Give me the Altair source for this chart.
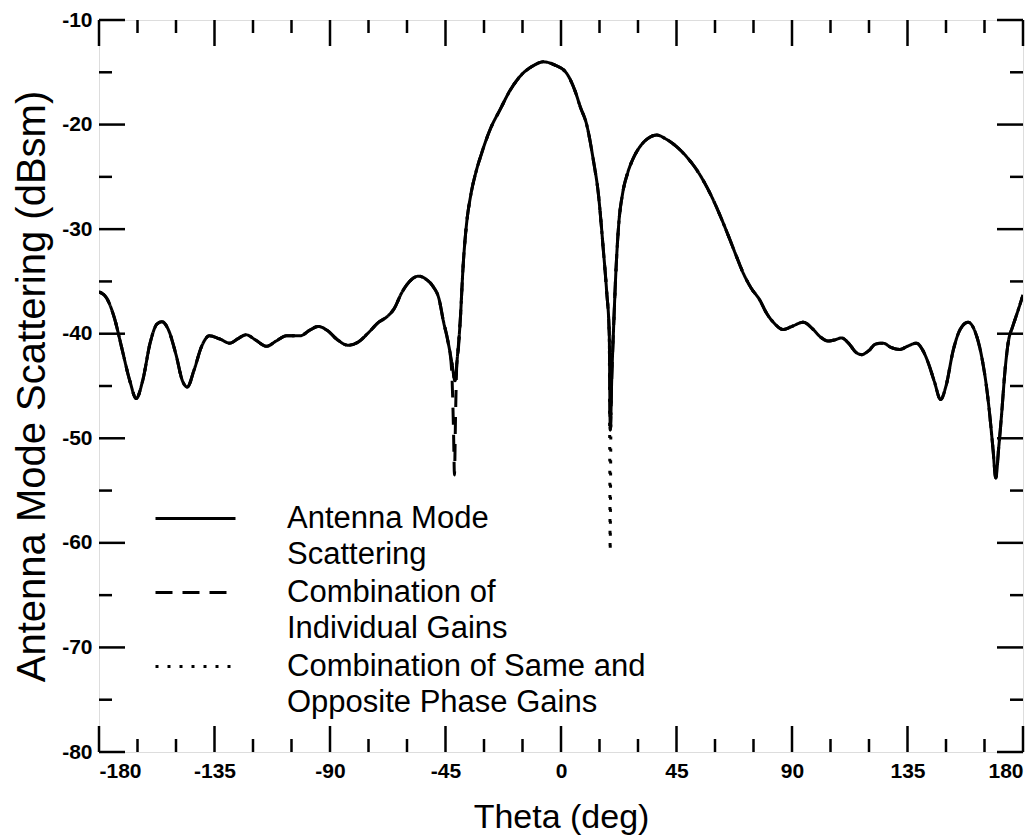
import altair as alt
import pandas as pd

# ---------------- data ----------------
theta_solid = [-180, -177, -174, -171, -168, -165.5, -163, -160, -157.5, -155.5,
               -153, -150, -147.5, -145.6, -143, -140, -137, -133, -129, -126,
               -122.7, -119, -114.7, -111, -106.9, -101.7, -97.5, -94.6, -91, -87,
               -83, -79, -75, -71, -67.9, -65, -62.1, -59, -55.6, -52.5,
               -49.8, -47.5, -45.9, -44, -42.5, -41.3, -40.3, -39.4, -38, -36.8,
               -35.2, -33.2, -31, -27.5, -23.8, -20, -16, -11, -6.9, -2.5, 2.2,
               5.5, 7.5, 10, 12.6, 14.5, 16.5, 17.8, 18.8, 19.2, 19.8,
               20.4, 21.5, 22.5, 24, 26, 28, 30.8, 34, 37.3, 41, 45,
               49, 52.8, 56, 59.3, 62.5, 65.8, 68.5, 71, 74, 77.5,
               80, 82.7, 86.6, 90, 94.4, 98.3, 101, 104.1, 106.5, 109.3,
               112, 115, 117.1, 120, 122.5, 125.5, 128.5, 132, 135, 138.5,
               141, 143.1, 145.5, 147.9, 150, 152.8, 155.5, 158.6, 161, 163.9,
               166, 167.1, 168.3, 169.4, 170.5, 171.6, 173, 174.2, 176, 177.5, 180]
db_solid = [-36.0, -36.6, -38.5, -41.5, -44.5, -46.2, -44.5, -40.8, -39.1, -38.85,
            -39.6, -42.0, -44.5, -45.1, -43.5, -41.2, -40.2, -40.5, -40.9, -40.5,
            -40.1, -40.6, -41.2, -40.7, -40.2, -40.2, -39.6, -39.3, -39.7, -40.6,
            -41.1, -40.8, -39.9, -38.9, -38.4, -37.6, -36.1, -35.0, -34.5, -34.8,
            -35.5, -36.7, -38.7, -40.8, -42.8, -44.5, -42.0, -39.3, -33.0, -29.5,
            -26.8, -24.6, -22.8, -20.4, -18.6, -16.8, -15.4, -14.4, -14.0, -14.3, -15.1,
            -16.8, -18.3, -20.0, -23.4, -26.5, -32.0, -36.0, -40.0, -49.2, -44.0,
            -40.0, -33.5, -29.5, -26.6, -24.6, -23.3, -22.1, -21.3, -21.0, -21.4, -22.1,
            -23.1, -24.3, -25.6, -27.2, -29.0, -31.0, -32.7, -34.2, -35.6, -36.8,
            -38.0, -38.9, -39.6, -39.3, -38.9, -39.6, -40.3, -40.7, -40.6, -40.4,
            -40.9, -41.8, -42.0, -41.6, -41.0, -40.9, -41.3, -41.5, -41.2, -40.9,
            -41.6, -42.8, -44.6, -46.3, -45.0, -41.6, -39.6, -38.9, -39.6, -42.2,
            -45.5, -47.9, -51.0, -53.8, -51.0, -47.9, -43.5, -40.9, -39.3, -38.2, -36.3]

# where the dashed curve leaves the solid one (null near -41 deg)
theta_dashed_null = [-42.6, -41.9, -41.5, -41.1, -40.4]
db_dashed_null = [-43.5, -49.0, -53.5, -48.0, -42.0]

# where the dotted curve leaves the solid one (null near 19 deg)
theta_dotted_null = [18.8, 19.0, 19.15, 19.4, 19.8]
db_dotted_null = [-40.0, -52.0, -60.8, -50.0, -43.0]

series_names = ["Antenna Mode|Scattering",
                "Combination of|Individual Gains",
                "Combination of Same and|Opposite Phase Gains"]
dash_styles = [[1, 0], [17, 10], [3, 9]]

x_major = [-180, -135, -90, -45, 0, 45, 90, 135, 180]
x_minor = [-165, -150, -120, -105, -75, -60, -30, -15, 15, 30, 60, 75, 105, 120, 150, 165]
y_major = [-80, -70, -60, -50, -40, -30, -20, -10]
y_minor = [-75, -65, -55, -45, -35, -25, -15]


def replace_window(base_t, base_v, new_t, new_v):
    lo, hi = min(new_t), max(new_t)
    pts = [(t, v) for t, v in zip(base_t, base_v) if t < lo or t > hi]
    pts += list(zip(new_t, new_v))
    pts.sort()
    return [p[0] for p in pts], [p[1] for p in pts]


t_d, v_d = replace_window(theta_solid, db_solid, theta_dashed_null, db_dashed_null)
t_o, v_o = replace_window(theta_solid, db_solid, theta_dotted_null, db_dotted_null)

frames = []
for name, (ts, vs) in zip(series_names[::-1], [(t_o, v_o), (t_d, v_d), (theta_solid, db_solid)]):
    frames.append(pd.DataFrame({"theta": ts, "db": vs, "series": name}))
df = pd.concat(frames, ignore_index=True)

W, H = 924, 732
FONT = "Liberation Sans"

xscale = alt.Scale(domain=[-180, 180], nice=False, zero=False)
yscale = alt.Scale(domain=[-80, -10], nice=False, zero=False)

lines = alt.Chart(df).mark_line(color="black", strokeWidth=3, interpolate="monotone",
                                strokeCap="butt", clip=True).encode(
    x=alt.X("theta:Q", scale=xscale,
            axis=alt.Axis(values=x_major, ticks=False, domain=False, grid=False,
                          labelFlush=True, labelPadding=8, labelFontSize=21,
                          labelFontWeight="bold",
                          labelFont=FONT, labelColor="black",
                          labelExpr="'' + datum.value",
                          title="Theta (deg)", titleFont=FONT, titleFontSize=34,
                          titleFontWeight="normal", titleColor="black", titlePadding=19)),
    y=alt.Y("db:Q", scale=yscale,
            axis=alt.Axis(values=y_major, ticks=False, domain=False, grid=False,
                          labelPadding=7, labelFontSize=21, labelFont=FONT,
                          labelFontWeight="bold",
                          labelColor="black", labelExpr="'' + datum.value",
                          title="Antenna Mode Scattering (dBsm)", titleFont=FONT,
                          titleFontSize=40, titleFontWeight="normal",
                          titleColor="black", titlePadding=9)),
    strokeDash=alt.StrokeDash("series:N",
                              scale=alt.Scale(domain=series_names, range=dash_styles),
                              legend=alt.Legend(title=None, orient="none", legendX=81,
                                                legendY=483, symbolType="M-4,0H4",
                                                symbolSize=400, symbolStrokeWidth=3,
                                                symbolStrokeColor="black",
                                                labelFontSize=31, labelFont=FONT,
                                                labelColor="black", labelOffset=76,
                                                labelLimit=800,
                                                labelExpr="split(datum.label, '|')",
                                                rowPadding=6, padding=0)),
    order=alt.Order("theta:Q"),
)

xmaj = pd.DataFrame({"v": x_major})
xmin = pd.DataFrame({"v": x_minor})
ymaj = pd.DataFrame({"v": y_major})
ymin = pd.DataFrame({"v": y_minor})

MAJ, MIN = 26, 13


def xticks(d, length):
    b = alt.Chart(d).mark_rule(color="black", strokeWidth=2.5).encode(
        x=alt.X("v:Q", scale=xscale), y=alt.value(H), y2=alt.value(H - length))
    t = alt.Chart(d).mark_rule(color="black", strokeWidth=2.5).encode(
        x=alt.X("v:Q", scale=xscale), y=alt.value(0), y2=alt.value(length))
    return [b, t]


def yticks(d, length):
    l = alt.Chart(d).mark_rule(color="black", strokeWidth=2.5).encode(
        y=alt.Y("v:Q", scale=yscale), x=alt.value(0), x2=alt.value(length))
    r = alt.Chart(d).mark_rule(color="black", strokeWidth=2.5).encode(
        y=alt.Y("v:Q", scale=yscale), x=alt.value(W), x2=alt.value(W - length))
    return [l, r]


layers = [lines] + xticks(xmaj, MAJ) + xticks(xmin, MIN) + yticks(ymaj, MAJ) + yticks(ymin, MIN)

chart = alt.layer(*layers).properties(
    width=W, height=H,
    autosize="none",
    padding={"left": 99, "top": 20, "right": 6, "bottom": 84},
).configure_view(stroke="black", strokeWidth=3).configure(
    background="white",
    style={"guide-label": {"lineHeight": 36.5}},
)

chart.save("out.html", embed_options={"renderer": "svg", "actions": False})
